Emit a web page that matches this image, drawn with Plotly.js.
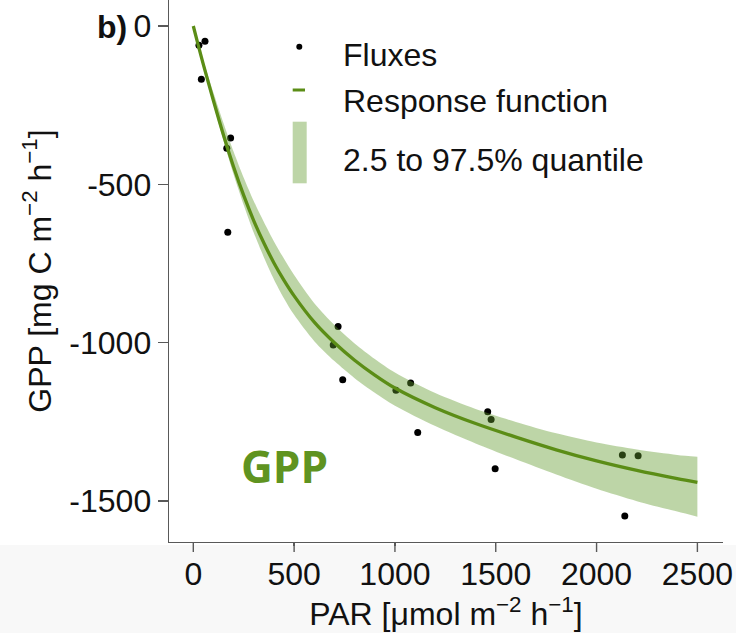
<!DOCTYPE html>
<html>
<head>
<meta charset="utf-8">
<script src="https://cdn.plot.ly/plotly-3.0.1.min.js"></script>
<style>html,body{margin:0;padding:0;background:#fff;}#chart{width:736px;height:633px;}</style>
</head>
<body>
<div id="chart"></div>
<script>
// Measured fluxes (PAR vs GPP)
const parFlux = [28, 58, 40, 185, 166, 171, 718, 694, 741, 1078, 1005, 1113, 1460, 1477, 1497, 2128, 2206, 2140];
const gppFlux = [-61, -48, -168, -354, -386, -651, -949, -1007, -1117, -1127, -1150, -1283, -1218, -1242, -1398, -1354, -1357, -1547];

// Response function and its 2.5–97.5 % quantile band
const respX     = [0, 25, 50, 100, 150, 200, 250, 300, 350, 400, 450, 500, 600, 700, 800, 900, 1000, 1200, 1400, 1600, 1800, 2000, 2200, 2400, 2500];
const respY     = [0, -62, -122, -236, -345, -445, -535, -615, -685, -748, -803, -852, -935, -1000, -1055, -1102, -1143, -1205, -1255, -1298, -1338, -1373, -1403, -1429, -1441];
const bandUpper = [0, -56, -110, -211, -307, -397, -479, -553, -619, -680, -735, -786, -875, -944, -1002, -1051, -1094, -1159, -1209, -1250, -1286, -1315, -1337, -1354, -1360];
const bandLower = [0, -66, -129, -248, -362, -469, -565, -653, -730, -800, -860, -912, -995, -1058, -1112, -1158, -1199, -1263, -1318, -1368, -1416, -1461, -1500, -1533, -1549];

// Axis ticks
const xTickVals = [0, 500, 1000, 1500, 2000, 2500];
const xTickText = ['0', '500', '1000', '1500', '2000', '2500'];
const yTickVals = [0, -500, -1000, -1500];
const yTickText = ['0', '-500', '-1000', '-1500'];

// Legend labels
const legendLabels = ['Fluxes', 'Response function', '2.5 to 97.5% quantile'];

const FONT = 'Liberation Sans, Arial, Helvetica, sans-serif';
const GREEN = '#5b8d16';
const BAND = 'rgba(98,155,45,0.42)';
const AXIS = '#595959';

const traces = [
  {x: parFlux, y: gppFlux, type: 'scatter', mode: 'markers', name: legendLabels[0],
   marker: {color: '#000', size: 7}, hoverinfo: 'skip', showlegend: false},
  {x: respX, y: bandLower, type: 'scatter', mode: 'lines', line: {width: 0, shape: 'spline', smoothing: 0.8},
   hoverinfo: 'skip', showlegend: false},
  {x: respX, y: bandUpper, type: 'scatter', mode: 'lines', name: legendLabels[2], fill: 'tonexty', fillcolor: BAND,
   line: {width: 0, shape: 'spline', smoothing: 0.8}, hoverinfo: 'skip', showlegend: false},
  {x: respX, y: respY, type: 'scatter', mode: 'lines', name: legendLabels[1],
   line: {color: GREEN, width: 3.3, shape: 'spline', smoothing: 0.8}, hoverinfo: 'skip', showlegend: false}
];

const axisCommon = {
  showline: true, linecolor: AXIS, linewidth: 1.4, mirror: false,
  ticks: 'outside', ticklen: 10, tickwidth: 1.4, tickcolor: AXIS,
  showgrid: false, zeroline: false,
  tickfont: {family: FONT, size: 32, color: '#111'},
  automargin: false
};

const W = 554, H = 542; // plot area px
function px(x) { return (x - 169) / W; }
function py(y) { return 1 - y / H; }

// full-length x tick marks (labels sit closer to the axis than Plotly's default)
const xTickShapes = xTickVals.map(v => ({
  type: 'line', xref: 'x', yref: 'paper', x0: v, x1: v,
  ysizemode: 'pixel', yanchor: 0, y0: 0, y1: -10,
  line: {color: AXIS, width: 1.4}
}));

const layout = {
  width: 736, height: 633,
  margin: {l: 169, r: 13, t: 0, b: 91, pad: 0},
  paper_bgcolor: '#ffffff', plot_bgcolor: '#ffffff',
  showlegend: false,
  xaxis: Object.assign({}, axisCommon, {
    range: [-120.5, 2627], tickmode: 'array', tickvals: xTickVals, ticktext: xTickText,
    ticklen: 3,
    title: {text: '\u00a0\u00a0PAR [μmol m<sup>−2</sup> h<sup>−1</sup>]', font: {family: FONT, size: 32, color: '#111'}, standoff: 4}
  }),
  yaxis: Object.assign({}, axisCommon, {
    range: [-1629, 82], tickmode: 'array', tickvals: yTickVals, ticktext: yTickText,
    title: {text: 'GPP [mg C m<sup>−2</sup> h<sup>−1</sup>]', font: {family: FONT, size: 32, color: '#111'}, standoff: 8}
  }),
  shapes: [
    {type: 'rect', xref: 'paper', yref: 'paper', x0: px(0), x1: px(736), y0: py(545), y1: py(633),
     fillcolor: '#f8f8f8', line: {width: 0}, layer: 'below'},
    // legend glyphs
    {type: 'circle', xref: 'paper', yref: 'paper', x0: px(296.3), x1: px(302.3), y0: py(49.7), y1: py(43.7),
     fillcolor: '#000', line: {width: 0}},
    {type: 'line', xref: 'paper', yref: 'paper', x0: px(292.7), x1: px(305), y0: py(90), y1: py(90),
     line: {color: GREEN, width: 3}},
    {type: 'rect', xref: 'paper', yref: 'paper', x0: px(292.7), x1: px(306.7), y0: py(183.3), y1: py(121.7),
     fillcolor: BAND, line: {width: 0}}
  ].concat(xTickShapes),
  annotations: [
    {xref: 'paper', yref: 'paper', x: px(340.7), y: py(55), xanchor: 'left', yanchor: 'middle', showarrow: false,
     text: legendLabels[0], font: {family: FONT, size: 32, color: '#111'}},
    {xref: 'paper', yref: 'paper', x: px(340.7), y: py(101), xanchor: 'left', yanchor: 'middle', showarrow: false,
     text: legendLabels[1], font: {family: FONT, size: 32, color: '#111'}},
    {xref: 'paper', yref: 'paper', x: px(340.7), y: py(160), xanchor: 'left', yanchor: 'middle', showarrow: false,
     text: legendLabels[2], font: {family: FONT, size: 32, color: '#111'}},
    {xref: 'paper', yref: 'paper', x: px(284), y: py(466), xanchor: 'center', yanchor: 'middle', showarrow: false,
     text: '<b>GPP</b>', font: {family: 'Open Sans, sans-serif', size: 44, color: '#5f9320'}},
    {xref: 'paper', yref: 'paper', x: px(112), y: py(27), xanchor: 'center', yanchor: 'middle', showarrow: false,
     text: '<b>b)</b>', font: {family: FONT, size: 32, color: '#111'}}
  ]
};

Plotly.newPlot('chart', traces, layout, {displayModeBar: false, staticPlot: true});
</script>
</body>
</html>
